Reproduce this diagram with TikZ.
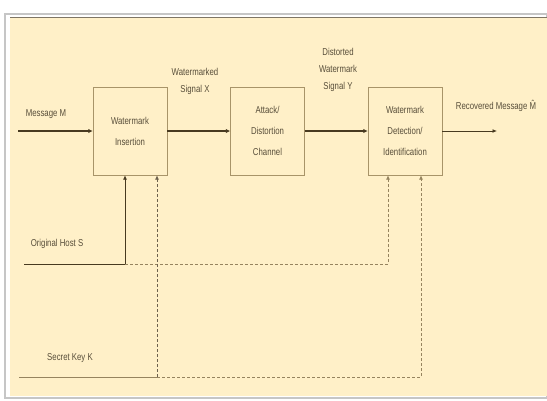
\documentclass[tikz,border=0pt]{standalone}
\usepackage{fontspec}
\setmainfont{Liberation Sans}[FakeStretch=0.78]
\usepackage{xcolor}
\usepackage{tikz}
\usetikzlibrary{arrows.meta,positioning,calc}
\definecolor{wmCream}{RGB}{255,240,200}
\definecolor{wmLine}{RGB}{72,58,32}
\definecolor{wmBox}{RGB}{168,148,105}
\definecolor{wmText}{RGB}{88,78,58}
\definecolor{wmDash}{RGB}{150,132,95}

\begin{document}
\begin{tikzpicture}[x=1pt,y=-1pt,
  font=\fontsize{10}{17}\selectfont, text=wmText,
  blk/.style={draw=wmBox, fill=wmCream, minimum width=74pt, minimum height=88pt,
    align=center, font=\fontsize{10}{21}\selectfont},
  lbl/.style={align=center, inner sep=1pt},
  sig/.style={draw=wmLine, line width=1.8pt, -{Latex[length=4.5pt,width=4.5pt]}},
  sigthin/.style={draw=wmLine, line width=1pt, -{Latex[length=4.5pt,width=4pt]}},
  keyline/.style={draw=wmDash, line width=0.9pt, dash pattern=on 3pt off 2pt},
  keyarrow/.style={keyline, -{Latex[length=4.5pt,width=4pt]}}]
\useasboundingbox (0,0) rectangle (547,400);
% frame
\fill[white] (0,0) rectangle (547,400);
\draw[gray!45, fill=white, line width=1.2pt] (5,14) rectangle (547,398);
\fill[wmCream] (10,17) rectangle (547,396);
\draw[wmLine!70, line width=1.2pt] (10,17.5) -- (547,17.5);
% blocks
\node[blk] (ins) at (130,131) {Watermark\\Insertion};
\node[blk] (att) at (267.5,131) {Attack/\\Distortion\\Channel};
\node[blk] (det) at (405,131) {Watermark\\Detection/\\Identification};
% free ends
\coordinate (msg) at (18,131);
\coordinate (out) at (497,131);
\coordinate (hostL) at (24,264);
\coordinate (hostT) at (125,264);
\coordinate (hostR) at (388,264);
\coordinate (keyL) at (19,377);
\coordinate (keyT) at (157,377);
\coordinate (keyR) at (421,377);
% main chain
\draw[sig] (msg) -- (ins);
\draw[sig] (ins) -- (att);
\draw[sig] (att) -- (det);
\draw[sigthin] (det) -- (out);
% host signal
\draw[wmLine, line width=1pt] (hostL) -- (hostT);
\draw[sigthin] (hostT) -- (ins.south -| hostT);
\draw[keyarrow] (hostT) -- (hostR) -- (det.south -| hostR);
% secret key
\draw[draw=wmDash, line width=0.9pt] (keyL) -- (keyT);
\draw[keyarrow, draw=wmLine!80] (keyT) -- (ins.south -| keyT);
\draw[keyarrow] (keyT) -- (keyR) -- (det.south -| keyR);
% labels
\node[lbl] (lmsg) at (46,114) {Message M};
\node[lbl] (lx) at (195,81) {Watermarked\\Signal X};
\node[lbl] (ly) at (338,70) {Distorted\\Watermark\\Signal Y};
\node[lbl] (lout) at (496,106) {Recovered Message \^{M}};
\node[lbl] (lhost) at (57,244) {Original Host S};
\node[lbl] (lkey) at (70,358) {Secret Key K};
\end{tikzpicture}
\end{document}
